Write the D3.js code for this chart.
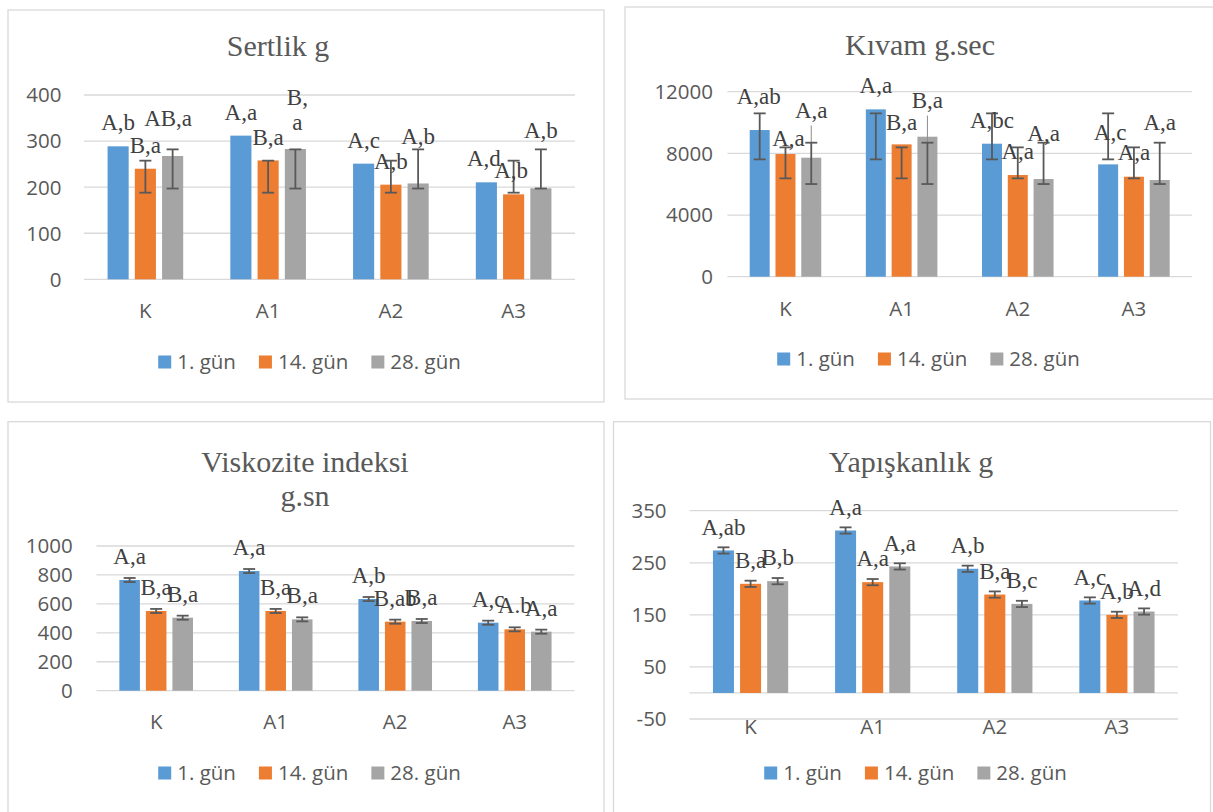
<!DOCTYPE html>
<html>
<head>
<meta charset="utf-8">
<script src="https://cdn.jsdelivr.net/npm/d3@7"></script>
<style>
  body { margin: 0; background: #fff; }
  svg { display: block; }
</style>
</head>
<body>
<svg id="chart"></svg>
<script>
// shared categories / series
const categories = ["K", "A1", "A2", "A3"];
const seriesNames = ["1. gün", "14. gün", "28. gün"];
const seriesColors = ["#5B9BD5", "#ED7D31", "#A5A5A5"];

// Sertlik g  (rows = 1. gün, 14. gün, 28. gün)
const sertlikValues = [[288.6, 311.8, 251, 210.5], [240, 258, 205.4, 184.4], [267.6, 282.8, 208, 197.5]];
const sertlikErrLow = [null, [188, 188, 188, 188], [197, 197, 197, 197]];
const sertlikErrHigh = [null, [257.5, 257.5, 257.5, 257.5], [282, 282, 282, 282]];
const sertlikLabels = [["A,b", "A,a", "A,c", "A,d"], ["B,a", "B,a", "A,b", "A,b"], ["AB,a", "B,\na", "A,b", "A,b"]];
const sertlikTicks = [0, 100, 200, 300, 400];

// Kıvam g.sec
const kivamValues = [[9514, 10854, 8627, 7286], [7957, 8584, 6595, 6486], [7719, 9081, 6335, 6270]];
const kivamErrLow = [[7611, 7611, 7611, 7611], [6378, 6378, 6378, 6378], [6011, 6011, 6011, 6011]];
const kivamErrHigh = [[10595, 10595, 10595, 10595], [8389, 8389, 8389, 8389], [8692, 8692, 8692, 8692]];
const kivamGrayWhiskerTop = [9800, 10450, null, null];
const kivamLabels = [["A,ab", "A,a", "A,bc", "A,c"], ["A,a", "B,a", "A,a", "A,a"], ["A,a", "B,a", "A,a", "A,a"]];
const kivamTicks = [0, 4000, 8000, 12000];

// Viskozite indeksi g.sn
const viskoziteValues = [[765, 827, 633.6, 470], [551, 551, 477, 424], [504.6, 493, 481.6, 408]];
const viskoziteErr = [[14, 14, 14, 14], [14, 14, 14, 14], [14, 14, 14, 14]];
const viskoziteLabels = [["A,a", "A,a", "A,b", "A,c"], ["B,a", "B,a", "B,ab", "A.b"], ["B,a", "B,a", "B,a", "A,a"]];
const viskoziteTicks = [0, 200, 400, 600, 800, 1000];

// Yapışkanlık g
const yapiskanlikValues = [[273.7, 312, 238.5, 177.6], [209.6, 212.8, 189, 150], [214.7, 243, 171, 156.4]];
const yapiskanlikErr = [[6, 6, 6, 6], [6, 6, 6, 6], [6, 6, 6, 6]];
const yapiskanlikLabels = [["A,ab", "A,a", "A,b", "A,c"], ["B,a", "A,a", "B,a", "A,b"], ["B,b", "A,a", "B,c", "A,d"]];
const yapiskanlikTicks = [-50, 50, 150, 250, 350];

// hand-moved data labels (pixel nudges, like Excel's manual label positions)
const sertlikNudge = [[[0, 0], [0, 0], [0, 0], [-2.5, 0]], [[0, 0], [0, 0], [0, 0], [-2.5, 0]], [[-4.5, -14.5], [2, -16], [0, -24], [0, -34.5]]];
const kivamNudge = [[[-1, -10.5], [0, 0], [0, 0], [2, -8]], [[3, 7.5], [0, 2], [0, 0], [0, -1]], [[0, -24], [0, -13], [0, -22.5], [0, -34.5]]];

const W = 1213, H = 812;
const svg = d3.select("#chart").attr("width", W).attr("height", H);
svg.append("rect").attr("width", W).attr("height", H).attr("fill", "#fff");

const sansFont = "'Open Sans', 'Liberation Sans', sans-serif";
const serifFont = "'Liberation Serif', 'DejaVu Serif', serif";

function errRange(values, err) {
    return {
        low: err.map((row, s) => row.map((e, i) => values[s][i] - e)),
        high: err.map((row, s) => row.map((e, i) => values[s][i] + e))
    };
}

const viskR = errRange(viskoziteValues, viskoziteErr);
const yapR = errRange(yapiskanlikValues, yapiskanlikErr);

const panels = [
    { title: ["Sertlik g"], titleX: 278, titleY: 56, box: [8, 10, 596, 392],
      plotX: [84, 575], plotY: [279.3, 95], domain: [0, 400], ticks: sertlikTicks, tickRight: 61.5,
      catY: 310.5, legendY: 362, values: sertlikValues, errLow: sertlikErrLow, errHigh: sertlikErrHigh,
      labels: sertlikLabels, nudge: sertlikNudge },
    { title: ["Kıvam g.sec"], titleX: 920, titleY: 55, box: [625, 7, 600, 392],
      plotX: [727.4, 1192], plotY: [276.7, 91.7], domain: [0, 12000], ticks: kivamTicks, tickRight: 713,
      catY: 309, legendY: 359, values: kivamValues, errLow: kivamErrLow, errHigh: kivamErrHigh,
      labels: kivamLabels, nudge: kivamNudge, whisker: kivamGrayWhiskerTop },
    { title: ["Viskozite indeksi", "g.sn"], titleX: 305, titleY: 472, box: [8, 421.7, 596, 400],
      plotX: [96.4, 574.5], plotY: [690.7, 546], domain: [0, 1000], ticks: viskoziteTicks, tickRight: 72.7,
      catY: 722, legendY: 773, values: viskoziteValues, errLow: viskR.low, errHigh: viskR.high,
      labels: viskoziteLabels },
    { title: ["Yapışkanlık g"], titleX: 911, titleY: 472, box: [613.5, 421.7, 597, 400],
      plotX: [689.5, 1178], plotY: [719, 510.7], domain: [-50, 350], ticks: yapiskanlikTicks, tickRight: 666.6,
      catY: 727, legendY: 773, values: yapiskanlikValues, errLow: yapR.low, errHigh: yapR.high,
      labels: yapiskanlikLabels }
];

function drawPanel(p) {
    const g = svg.append("g");

    g.append("rect")
        .attr("x", p.box[0]).attr("y", p.box[1])
        .attr("width", p.box[2]).attr("height", p.box[3])
        .attr("fill", "#fff").attr("stroke", "#D9D9D9").attr("stroke-width", 1.3);

    // title
    const title = g.append("text")
        .attr("x", p.titleX).attr("y", p.titleY)
        .attr("text-anchor", "middle")
        .attr("font-family", serifFont).attr("font-size", 30)
        .attr("fill", "#595959");
    p.title.forEach((t, i) => {
        title.append("tspan").attr("x", p.titleX).attr("dy", i === 0 ? 0 : 34).text(t);
    });

    const x = d3.scaleBand().domain(categories).range(p.plotX);
    const y = d3.scaleLinear().domain(p.domain).range(p.plotY);
    const step = x.step();
    const pitch = 0.222 * step;
    const barW = 0.172 * step;
    const barX = (ci, s) => x(categories[ci]) + step / 2 + (s - 1) * pitch;

    // gridlines + tick labels
    g.selectAll(".grid").data(p.ticks).enter().append("line")
        .attr("x1", p.plotX[0]).attr("x2", p.plotX[1])
        .attr("y1", d => y(d)).attr("y2", d => y(d))
        .attr("stroke", "#D9D9D9").attr("stroke-width", 1.3);

    g.selectAll(".ytick").data(p.ticks).enter().append("text")
        .attr("x", p.tickRight).attr("y", d => y(d))
        .attr("dy", "0.36em")
        .attr("text-anchor", "end")
        .attr("font-family", sansFont).attr("font-size", 20.5)
        .attr("fill", "#595959")
        .text(d => d);

    // category axis line at zero
    if (!p.ticks.includes(0)) {
        g.append("line")
            .attr("x1", p.plotX[0]).attr("x2", p.plotX[1])
            .attr("y1", y(0)).attr("y2", y(0))
            .attr("stroke", "#D9D9D9").attr("stroke-width", 1.3);
    }

    g.selectAll(".xtick").data(categories).enter().append("text")
        .attr("x", d => x(d) + step / 2).attr("y", p.catY)
        .attr("dy", "0.36em")
        .attr("text-anchor", "middle")
        .attr("font-family", sansFont).attr("font-size", 20.5)
        .attr("fill", "#595959")
        .text(d => d);

    // bars
    p.values.forEach((row, s) => {
        g.selectAll(null).data(row).enter().append("rect")
            .attr("x", (d, i) => barX(i, s) - barW / 2)
            .attr("y", d => y(d))
            .attr("width", barW)
            .attr("height", d => y(0) - y(d))
            .attr("fill", seriesColors[s]);
    });

    // thin extra whisker on the grey series (Kıvam)
    if (p.whisker) {
        p.whisker.forEach((top, i) => {
            if (top == null) return;
            g.append("line")
                .attr("x1", barX(i, 2)).attr("x2", barX(i, 2))
                .attr("y1", y(top)).attr("y2", y(p.errHigh[2][i]))
                .attr("stroke", "#8C8C8C").attr("stroke-width", 1);
        });
    }

    // error bars
    const cap = 6;
    p.values.forEach((row, s) => {
        if (!p.errLow[s]) return;
        row.forEach((v, i) => {
            const cx = barX(i, s);
            const y1 = y(p.errLow[s][i]), y2 = y(p.errHigh[s][i]);
            const eg = g.append("g").attr("stroke", "#595959").attr("stroke-width", 1.8);
            eg.append("line").attr("x1", cx).attr("x2", cx).attr("y1", y1).attr("y2", y2);
            eg.append("line").attr("x1", cx - cap).attr("x2", cx + cap).attr("y1", y1).attr("y2", y1);
            eg.append("line").attr("x1", cx - cap).attr("x2", cx + cap).attr("y1", y2).attr("y2", y2);
        });
    });

    // data labels
    p.labels.forEach((row, s) => {
        row.forEach((lab, i) => {
            const nd = p.nudge ? p.nudge[s][i] : [0, 0];
            const lines = lab.split("\n");
            const cx = barX(i, s) + nd[0];
            const cy = y(p.values[s][i]) - 23.5 + nd[1];
            const lh = 25;
            const t = g.append("text")
                .attr("text-anchor", "middle")
                .attr("font-family", serifFont).attr("font-size", 23)
                .attr("fill", "#404040");
            lines.forEach((ln, k) => {
                t.append("tspan")
                    .attr("x", cx)
                    .attr("y", cy + 7.6 + (k - (lines.length - 1) / 2) * lh)
                    .text(ln);
            });
        });
    });

    // legend
    const lg = g.append("g");
    let cur = 0;
    const items = seriesNames.map((name, s) => {
        const it = lg.append("g");
        it.append("rect").attr("x", 0).attr("y", -6.5).attr("width", 13).attr("height", 13)
            .attr("fill", seriesColors[s]);
        const tx = it.append("text").attr("x", 19).attr("dy", "0.36em")
            .attr("font-family", sansFont).attr("font-size", 20.5)
            .attr("fill", "#595959").text(name);
        const w = 19 + tx.node().getComputedTextLength();
        it.attr("transform", `translate(${cur},0)`);
        cur += w + 23;
        return w;
    });
    const total = cur - 23;
    const cx = p.box[0] + p.box[2] / 2 + 3.5;
    lg.attr("transform", `translate(${cx - total / 2},${p.legendY})`);
}

panels.forEach(drawPanel);
</script>
</body>
</html>
